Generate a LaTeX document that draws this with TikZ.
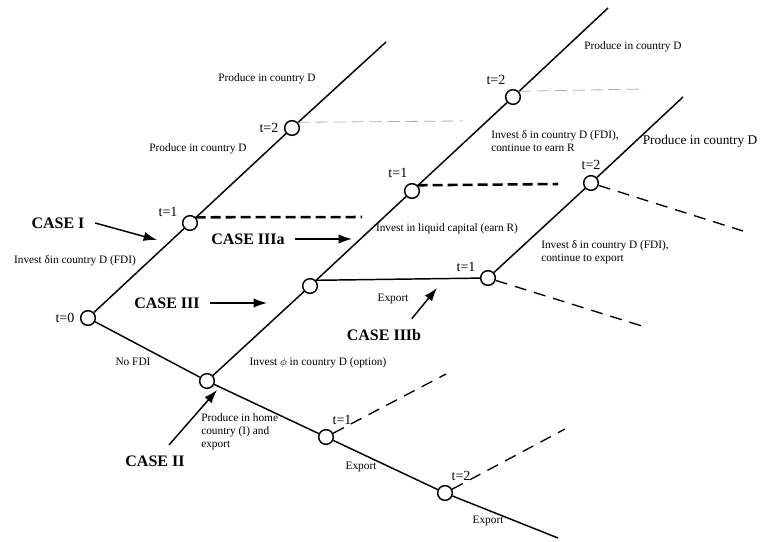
\documentclass[tikz,border=0pt]{standalone}
\usepackage{fontspec}
\setmainfont{Liberation Serif}
\usetikzlibrary{arrows.meta}
\begin{document}
\begin{tikzpicture}[x=0.75pt,y=-0.75pt]
      \tikzset{enclosed/.style={draw, circle, inner sep=0pt, minimum size=11pt, line width=1.1pt, fill=white},
        tlab/.style={font=\fontsize{10.5}{12}\selectfont, inner sep=1pt, label distance=3pt},
        note/.style={font=\fontsize{8.5}{9.75}\selectfont, inner sep=0pt, align=left},
        casename/.style={font=\fontsize{12}{14}\selectfont\bfseries, inner sep=0pt, outer sep=8pt},
        branch/.style={line width=1.1pt},
        thindash/.style={gray!65, line width=0.6pt, dash pattern=on 9pt off 4.5pt},
        heavydash/.style={line width=1.9pt, dash pattern=on 7.5pt off 3.75pt},
        middash/.style={line width=1pt, dash pattern=on 9pt off 6pt},
        casearrow/.style={line width=1.1pt, -{Latex[length=10pt,width=7pt]}}}
      \useasboundingbox (0,0) rectangle (760,542);
%% Vertices
	%CASE I
      	\node[enclosed, label={[tlab]left:t=0}] (t0) at (88,318) {};
      	\node[enclosed, label={[tlab]155:t=1}] (A) at (190,223) {};
      	\node[enclosed, label={[tlab]left:t=2}] (B) at (292,128) {};
	%CASE II
      	\node[enclosed] (N) at (207,381) {};
      	\node[enclosed, label={[tlab]65:t=1}] (H) at (326,437) {};
      	\node[enclosed, label={[tlab]65:t=2}] (J) at (445,493) {};
	%CASE III
      	\node[enclosed] (C) at (310,286) {};
      	\node[enclosed, label={[tlab]105:t=1}] (D) at (412,191) {};
      	\node[enclosed, label={[tlab]120:t=2}] (E) at (513,97) {};
      	\node[enclosed, label={[tlab]155:t=1}] (F) at (488,278) {};
      	\node[enclosed, label={[tlab]above:t=2}] (G) at (591,183) {};
	%loose ends
      	\coordinate (endI) at (386,42);
      	\coordinate (endII) at (558,538);
      	\coordinate (endIIIa) at (608,8);
      	\coordinate (endIIIb) at (683,97);
      	\coordinate (dB) at (463,121);
      	\coordinate (dE) at (645,89);
      	\coordinate (dA) at (362,217);
      	\coordinate (dD) at (558,184);
      	\coordinate (dG) at (743,231);
      	\coordinate (dF) at (642,326);
      	\coordinate (dH) at (446,374);
      	\coordinate (dJ) at (565,429);
%% Texts
      	\node[note] (prodB) at (267,79) {Produce in country D};
      	\node[note] (prodA) at (198,149) {Produce in country D};
      	\node[note] (fdi) at (75,261) {Invest~δin country D (FDI)};
      	\node[note] (nofdi) at (133,362) {No FDI};
      	\node[note] (option) at (318,363) {Invest $\phi$ in country D (option)};
      	\node[note, anchor=north west] (home) at (201,413) {Produce in home\\country (I) and\\export};
      	\node[note] (expH) at (361,467) {Export};
      	\node[note] (expJ) at (488,521) {Export};
      	\node[note] (expF) at (393,299) {Export};
      	\node[note] (liquid) at (447,229) {Invest in liquid capital (earn R)};
      	\node[note, anchor=north west] (earnR) at (491,130) {Invest δ in country D (FDI),\\continue to earn R};
      	\node[note] (prodE) at (633,47) {Produce in country D};
      	\node[note, font=\fontsize{10}{12}\selectfont] (prodG) at (700,141) {Produce in country D};
      	\node[note, anchor=north west] (contexp) at (541,240) {Invest δ in country D (FDI),\\continue to export};
%% Cases
      	\node[casename] (caseI) at (58,223) {CASE I};
      	\node[casename] (caseIIIa) at (248,239) {CASE IIIa};
      	\node[casename] (caseIII) at (167,303) {CASE III};
      	\node[casename] (caseIIIb) at (384,335) {CASE IIIb};
      	\node[casename] (caseII) at (155,461) {CASE II};
      	\coordinate (tipI) at (157,240);
      	\coordinate (tipIIIa) at (352,239);
      	\coordinate (tipIII) at (267,303);
      	\coordinate (tipIIIb) at (437,288);
      	\coordinate (tipII) at (217,390);
%Edges
	%solid
		\path [branch] (t0) edge (A);
		\path [branch] (A) edge (B);
		\path [branch] (B) edge (endI);
		\path [branch] (t0) edge (N);
		\path [branch] (N) edge (H);
		\path [branch] (H) edge (J);
		\path [branch] (J) edge (endII);
		\path [branch] (N) edge (C);
		\path [branch] (C) edge (D);
		\path [branch] (D) edge (E);
		\path [branch] (E) edge (endIIIa);
		\path [branch] (C.north east) edge (F);
		\path [branch] (F) edge (G);
		\path [branch] (G) edge (endIIIb);
	%dashed
		\path [thindash] (B.north east) edge (dB);
		\path [thindash] (E.north east) edge (dE);
		\path [heavydash] (A.north east) edge (dA);
		\path [heavydash] (D.north east) edge (dD);
		\path [middash] (G) edge (dG);
		\path [middash] (F) edge (dF);
		\path [middash] (H) edge (dH);
		\path [middash] (J) edge (dJ);
	%arrows
		\path [casearrow] (caseI.east) edge (tipI);
		\path [casearrow] (caseIIIa.east) edge (tipIIIa);
		\path [casearrow] (caseIII.east) edge (tipIII);
		\path [casearrow] ([xshift=-15pt]caseIIIb.north east) edge (tipIIIb);
		\path [casearrow] (caseII) edge (tipII);

	\end{tikzpicture}
\end{document}
